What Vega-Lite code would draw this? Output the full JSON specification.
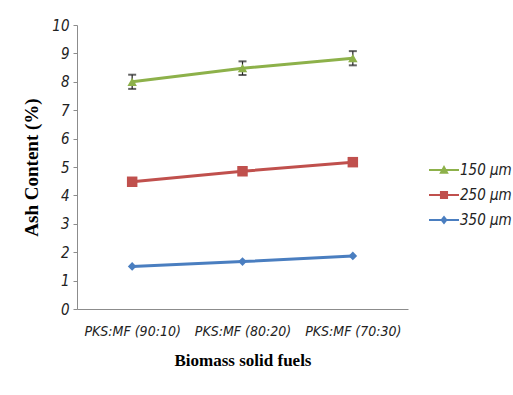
{
  "$schema": "https://vega.github.io/schema/vega-lite/v6.json",
  "autosize": {"type": "none"},
  "padding": {"left": 77, "top": 25, "right": 105, "bottom": 86},
  "width": 331,
  "height": 284,
  "background": "white",
  "config": {"view": {"stroke": null}},
  "data": {"values": [
    {"fuel": "PKS:MF (90:10)", "size": "150 µm", "ash": 8.0, "lo": 7.75, "hi": 8.25},
    {"fuel": "PKS:MF (80:20)", "size": "150 µm", "ash": 8.48, "lo": 8.24, "hi": 8.72},
    {"fuel": "PKS:MF (70:30)", "size": "150 µm", "ash": 8.83, "lo": 8.58, "hi": 9.08},
    {"fuel": "PKS:MF (90:10)", "size": "250 µm", "ash": 4.48, "lo": 4.48, "hi": 4.48},
    {"fuel": "PKS:MF (80:20)", "size": "250 µm", "ash": 4.85, "lo": 4.85, "hi": 4.85},
    {"fuel": "PKS:MF (70:30)", "size": "250 µm", "ash": 5.17, "lo": 5.17, "hi": 5.17},
    {"fuel": "PKS:MF (90:10)", "size": "350 µm", "ash": 1.5, "lo": 1.5, "hi": 1.5},
    {"fuel": "PKS:MF (80:20)", "size": "350 µm", "ash": 1.67, "lo": 1.67, "hi": 1.67},
    {"fuel": "PKS:MF (70:30)", "size": "350 µm", "ash": 1.87, "lo": 1.87, "hi": 1.87}
  ]},
  "encoding": {
    "x": {
      "field": "fuel", "type": "nominal", "sort": null,
      "scale": {"type": "point", "padding": 0.5},
      "axis": {
        "title": "Biomass solid fuels",
        "titleFont": "Liberation Serif", "titleFontSize": 17, "titleFontWeight": "bold", "titleColor": "#000",
        "titlePadding": 14,
        "labelFont": "Liberation Sans Narrow, DejaVu Sans Condensed", "labelFontStyle": "italic", "labelFontSize": 14,
        "labelColor": "#222", "labelAngle": 0, "labelPadding": 15,
        "ticks": false, "domainColor": "#8c8c8c", "domainWidth": 1
      }
    },
    "y": {
      "field": "ash", "type": "quantitative",
      "scale": {"domain": [0, 10], "nice": false},
      "axis": {
        "title": "Ash Content  (%)", "values": [0,1,2,3,4,5,6,7,8,9,10],
        "titleFont": "Liberation Serif", "titleFontSize": 19, "titleFontWeight": "bold", "titleColor": "#000",
        "titlePadding": 10,
        "labelFont": "Liberation Sans Narrow, DejaVu Sans Condensed", "labelFontStyle": "italic", "labelFontSize": 15,
        "labelColor": "#222", "labelPadding": 4,
        "grid": false, "tickSize": 4, "tickColor": "#8c8c8c", "domainColor": "#8c8c8c"
      }
    },
    "color": {
      "field": "size", "type": "nominal",
      "scale": {"domain": ["150 µm", "250 µm", "350 µm"], "range": ["#8db14a", "#c0504d", "#4a7ec0"]}
    }
  },
  "layer": [
    {
      "mark": {"type": "line", "strokeWidth": 3},
      "encoding": {
        "color": {
          "field": "size", "type": "nominal",
          "legend": {
            "title": null, "orient": "none", "legendX": 352, "legendY": 130,
            "symbolSize": 900, "symbolType": "square", "symbolStrokeWidth": 0,
            "rowPadding": 2, "labelOffset": 1,
            "labelFont": "Liberation Sans Narrow, DejaVu Sans Condensed", "labelFontStyle": "italic", "labelFontSize": 15, "labelColor": "#222",
            "encode": {"symbols": {"update": {
              "shape": {"signal": "datum.label === '150 µm' ? 'M-1,-0.07H1V0.07H-1Z M0,-0.33L0.32,0.25L-0.32,0.25Z' : datum.label === '250 µm' ? 'M-1,-0.07H1V0.07H-1Z M-0.27,-0.27H0.27V0.27H-0.27Z' : 'M-1,-0.07H1V0.07H-1Z M0,-0.3L0.24,0L0,0.3L-0.24,0Z'"},
              "size": {"value": 900},
              "fill": {"signal": "datum.label === '150 µm' ? '#8db14a' : datum.label === '250 µm' ? '#c0504d' : '#4a7ec0'"},
              "fillOpacity": {"value": 1},
              "strokeWidth": {"value": 0}
            }}}
          }
        }
      }
    },
    {
      "transform": [{"filter": "datum.size === '150 µm'"}],
      "mark": {"type": "rule", "color": "#222", "strokeWidth": 1.2},
      "encoding": {"y": {"field": "lo", "type": "quantitative"}, "y2": {"field": "hi"}, "color": {"value": "#222"}}
    },
    {
      "transform": [{"filter": "datum.size === '150 µm'"}],
      "mark": {"type": "tick", "color": "#222", "thickness": 2, "size": 8},
      "encoding": {"y": {"field": "hi", "type": "quantitative"}, "color": {"value": "#222"}}
    },
    {
      "transform": [{"filter": "datum.size === '150 µm'"}],
      "mark": {"type": "tick", "color": "#222", "thickness": 2, "size": 8},
      "encoding": {"y": {"field": "lo", "type": "quantitative"}, "color": {"value": "#222"}}
    },
    {
      "transform": [{"filter": "datum.size === '150 µm'"}],
      "mark": {"type": "point", "filled": true, "opacity": 1, "shape": "triangle-up", "size": 90},
      "encoding": {"color": {"field": "size", "type": "nominal", "legend": null}}
    },
    {
      "transform": [{"filter": "datum.size === '250 µm'"}],
      "mark": {"type": "point", "filled": true, "opacity": 1, "shape": "square", "size": 110},
      "encoding": {"color": {"field": "size", "type": "nominal", "legend": null}}
    },
    {
      "transform": [{"filter": "datum.size === '350 µm'"}],
      "mark": {"type": "point", "filled": true, "opacity": 1, "shape": "diamond", "size": 75},
      "encoding": {"color": {"field": "size", "type": "nominal", "legend": null}}
    }
  ]
}
